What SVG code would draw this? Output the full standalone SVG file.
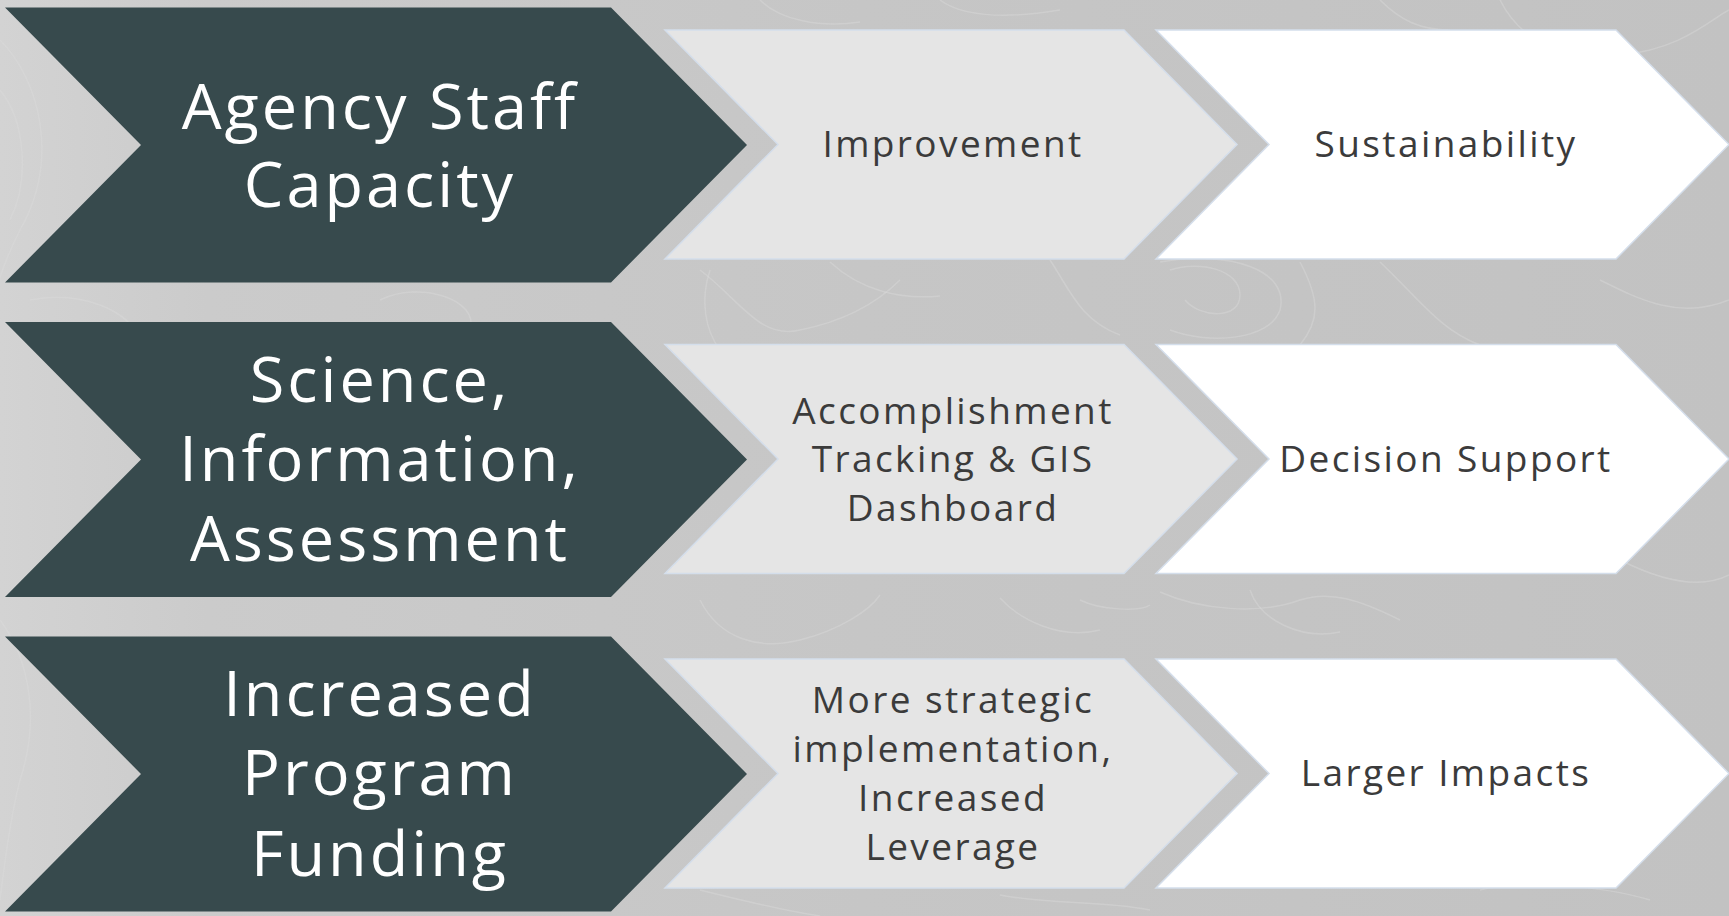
<svg xmlns="http://www.w3.org/2000/svg" width="1729" height="916" viewBox="0 0 1729 916">
  <defs>
    <linearGradient id="bg" x1="0" y1="0" x2="1" y2="0">
      <stop offset="0" stop-color="#d3d3d3"/>
      <stop offset="0.12" stop-color="#cbcbcb"/>
      <stop offset="0.5" stop-color="#c6c6c6"/>
      <stop offset="1" stop-color="#c2c2c2"/>
    </linearGradient>
  </defs>
  <style>
    .dark { fill: #374a4d; }
    .light { fill: #e5e5e5; stroke: #d4deeb; stroke-width: 1.5; }
    .white { fill: #ffffff; stroke: #d4deeb; stroke-width: 1.5; }
    .topo { fill: none; stroke: #dcdcdc; stroke-opacity: 0.4; stroke-width: 1.5; }
    .t1 { font-family: "Open Sans", "Liberation Sans", sans-serif; font-size: 63px; fill: #ffffff; text-anchor: middle; letter-spacing: 3px; }
    .t2 { font-family: "Open Sans", "Liberation Sans", sans-serif; font-size: 37px; fill: #3b3b3b; text-anchor: middle; letter-spacing: 2.4px; }
  </style>
  <rect width="1729" height="916" fill="url(#bg)"/>
  <g id="background-contours">
    <path class="topo" d="M0,40 C40,80 60,160 20,230 C0,270 -10,300 0,320"/>
    <path class="topo" d="M0,90 C25,120 30,180 10,220"/>
    <path class="topo" d="M30,300 C80,290 130,310 140,340 C150,370 100,380 60,370"/>
    <path class="topo" d="M380,300 C420,280 480,300 470,330"/>
    <path class="topo" d="M700,270 C740,300 760,340 800,330 C850,320 880,300 900,280"/>
    <path class="topo" d="M710,270 C700,300 705,330 720,350"/>
    <path class="topo" d="M830,262 C860,290 900,300 940,296"/>
    <path class="topo" d="M1170,270 C1200,260 1240,270 1240,295 C1240,320 1200,318 1185,300"/>
    <path class="topo" d="M1160,262 C1230,250 1290,270 1280,310 C1270,340 1210,345 1170,330"/>
    <path class="topo" d="M1300,262 C1320,300 1320,320 1300,345"/>
    <path class="topo" d="M1380,262 C1420,300 1440,330 1480,345"/>
    <path class="topo" d="M1500,0 C1520,40 1560,60 1620,55 C1680,50 1710,20 1729,10"/>
    <path class="topo" d="M1380,0 C1400,20 1420,30 1450,30"/>
    <path class="topo" d="M760,0 C780,20 820,28 860,22"/>
    <path class="topo" d="M940,0 C960,15 1000,20 1060,10"/>
    <path class="topo" d="M1160,592 C1200,610 1260,615 1300,600 C1330,590 1360,600 1400,620"/>
    <path class="topo" d="M700,600 C720,640 760,650 800,640 C840,630 870,610 880,595"/>
    <path class="topo" d="M1000,598 C1020,620 1060,640 1100,630"/>
    <path class="topo" d="M1080,600 C1100,610 1140,612 1150,605"/>
    <path class="topo" d="M1250,590 C1260,620 1300,640 1340,632"/>
    <path class="topo" d="M0,620 C30,660 40,720 20,780 C10,820 5,860 0,900"/>
    <path class="topo" d="M1480,890 C1520,880 1600,885 1650,900"/>
    <path class="topo" d="M700,890 C740,900 780,910 820,916"/>
    <path class="topo" d="M1000,895 C1050,905 1100,900 1150,910"/>
    <path class="topo" d="M1600,280 C1640,300 1680,320 1729,300"/>
    <path class="topo" d="M1620,560 C1660,580 1700,590 1729,575"/>
    <path class="topo" d="M1050,260 C1070,290 1080,320 1120,335"/>
  </g>
  <g id="row1">
    <g id="n-agency">
      <path class="dark" d="M5,7.5 L611,7.5 L747,145 L611,282.5 L5,282.5 L141,145 Z"/>
      <text class="t1" x="380" y="129">Agency Staff</text>
      <text class="t1" x="380" y="207">Capacity</text>
    </g>
    <g id="n-improvement">
      <path class="light" d="M665,30 L1124,30 L1237,144.5 L1124,259 L665,259 L778,144.5 Z"/>
      <text class="t2" x="953" y="157">Improvement</text>
    </g>
    <g id="n-sustainability">
      <path class="white" d="M1156,30 L1616,30 L1729,144.5 L1616,259 L1156,259 L1269,144.5 Z"/>
      <text class="t2" x="1446" y="157">Sustainability</text>
    </g>
  </g>
  <g id="row2">
    <g id="n-science">
      <path class="dark" d="M5,322 L611,322 L747,459.5 L611,597 L5,597 L141,459.5 Z"/>
      <text class="t1" x="380" y="402">Science,</text>
      <text class="t1" x="380" y="481">Information,</text>
      <text class="t1" x="380" y="561">Assessment</text>
    </g>
    <g id="n-tracking">
      <path class="light" d="M665,344.5 L1124,344.5 L1237,459 L1124,573.5 L665,573.5 L778,459 Z"/>
      <text class="t2" x="953" y="424">Accomplishment</text>
      <text class="t2" x="953" y="472">Tracking &amp; GIS</text>
      <text class="t2" x="953" y="521">Dashboard</text>
    </g>
    <g id="n-decision">
      <path class="white" d="M1156,344.5 L1616,344.5 L1729,459 L1616,573.5 L1156,573.5 L1269,459 Z"/>
      <text class="t2" x="1446" y="472">Decision Support</text>
    </g>
  </g>
  <g id="row3">
    <g id="n-funding">
      <path class="dark" d="M5,636.5 L611,636.5 L747,774 L611,911.5 L5,911.5 L141,774 Z"/>
      <text class="t1" x="380" y="716">Increased</text>
      <text class="t1" x="380" y="795">Program</text>
      <text class="t1" x="380" y="876">Funding</text>
    </g>
    <g id="n-strategic">
      <path class="light" d="M665,659 L1124,659 L1237,773.5 L1124,888 L665,888 L778,773.5 Z"/>
      <text class="t2" x="953" y="713">More strategic</text>
      <text class="t2" x="953" y="762">implementation,</text>
      <text class="t2" x="953" y="811">Increased</text>
      <text class="t2" x="953" y="860">Leverage</text>
    </g>
    <g id="n-impacts">
      <path class="white" d="M1156,659 L1616,659 L1729,773.5 L1616,888 L1156,888 L1269,773.5 Z"/>
      <text class="t2" x="1446" y="786">Larger Impacts</text>
    </g>
  </g>
  <g id="connectors"/>
</svg>
